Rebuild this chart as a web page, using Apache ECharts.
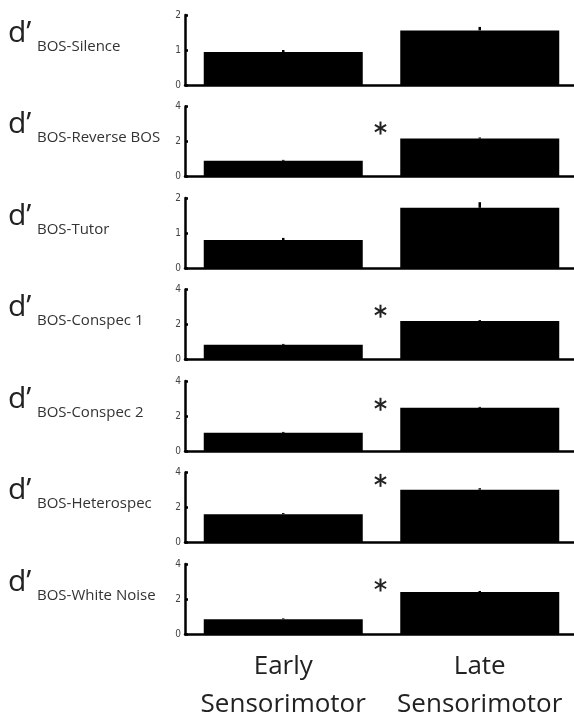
<!DOCTYPE html>
<html>
<head>
<meta charset="utf-8">
<script src="https://cdn.jsdelivr.net/npm/echarts@6/dist/echarts.min.js"></script>
<style>
  html, body { margin: 0; padding: 0; background: #fff; }
  #chart { width: 574px; height: 718px; }
</style>
</head>
<body>
<div id="chart"></div>
<script>
// Discrimination (d') of the bird's own song against each comparison stimulus,
// early vs late sensorimotor stage.
const categories = ['Early\nSensorimotor', 'Late\nSensorimotor'];
const conditions = ['BOS-Silence', 'BOS-Reverse BOS', 'BOS-Tutor', 'BOS-Conspec 1',
                    'BOS-Conspec 2', 'BOS-Heterospec', 'BOS-White Noise'];
const earlyDprime = [0.94, 0.90, 0.80, 0.84, 1.04, 1.62, 0.85];
const lateDprime  = [1.56, 2.17, 1.72, 2.20, 2.47, 3.02, 2.40];
const earlyErr    = [0.06, 0.05, 0.06, 0.05, 0.05, 0.06, 0.04];
const lateErr     = [0.10, 0.06, 0.16, 0.05, 0.05, 0.08, 0.06];
const axisMax     = [2, 4, 2, 4, 4, 4, 4];
const axisStep    = [1, 2, 1, 2, 2, 2, 2];
const starLevel   = [null, 2.77, null, 2.76, 2.67, 3.55, 2.8];   // '*' = significant change

const chart = echarts.init(document.getElementById('chart'), null, { renderer: 'canvas' });

const PANEL_TOP = 15, PANEL_STEP = 91.5, PANEL_H = 70;
const grids = [], xAxes = [], yAxes = [], series = [], graphics = [];

conditions.forEach((name, i) => {
  const top = PANEL_TOP + i * PANEL_STEP;
  const last = i === conditions.length - 1;
  grids.push({ left: 185, width: 393, top: top, height: PANEL_H, outerBoundsMode: 'none', containLabel: false });

  xAxes.push({
    type: 'category', gridIndex: i, data: categories,
    axisLine: { lineStyle: { color: '#000', width: 2.5 } },
    axisTick: { show: false },
    axisLabel: {
      show: last, color: '#222', fontSize: 26, lineHeight: 38,
      fontFamily: 'Open Sans', margin: 14, interval: 0
    }
  });

  yAxes.push({
    type: 'value', gridIndex: i, min: 0, max: axisMax[i], interval: axisStep[i],
    splitLine: { show: false },
    axisLine: { show: true, lineStyle: { color: '#000', width: 2.5 } },
    axisTick: { show: true, inside: true, length: 3, lineStyle: { color: '#000', width: 2.5 } },
    axisLabel: {
      color: '#444', fontSize: 10, margin: 4,
      fontFamily: 'Liberation Sans Narrow, DejaVu Sans Condensed, sans-serif'
    }
  });

  series.push({
    type: 'bar', xAxisIndex: i, yAxisIndex: i,
    data: [earlyDprime[i], lateDprime[i]],
    barWidth: 159, itemStyle: { color: '#000' }, silent: true
  });

  // upward error bars
  series.push({
    type: 'custom', xAxisIndex: i, yAxisIndex: i, silent: true,
    data: [[0, earlyDprime[i], earlyErr[i]], [1, lateDprime[i], lateErr[i]]],
    renderItem: (params, api) => {
      const lo = api.coord([api.value(0), api.value(1)]);
      const hi = api.coord([api.value(0), api.value(1) + api.value(2)]);
      return {
        type: 'line',
        shape: { x1: lo[0], y1: lo[1], x2: hi[0], y2: hi[1] },
        style: { stroke: '#000', lineWidth: 2.5 }
      };
    }
  });

  if (starLevel[i] !== null) {
    series.push({
      type: 'custom', xAxisIndex: i, yAxisIndex: i, silent: true,
      data: [[1, starLevel[i]]],
      renderItem: (params, api) => {
        const c = api.coord([api.value(0), api.value(1)]);
        const band = api.size([1, 0])[0];
        const cx = c[0] - band / 2 - 1, cy = c[1], r = 6.5;
        const arms = [90, 30, 150].map(a => {
          const t = a * Math.PI / 180;
          return {
            type: 'line',
            shape: { x1: cx - r * Math.cos(t), y1: cy - r * Math.sin(t),
                     x2: cx + r * Math.cos(t), y2: cy + r * Math.sin(t) },
            style: { stroke: '#222', lineWidth: 2 }
          };
        });
        return { type: 'group', children: arms };
      }
    });
  }

  graphics.push({
    type: 'text', left: 8, top: top + 3,
    style: { text: 'd’', font: '30px "Open Sans"', fill: '#222' }
  });
  graphics.push({
    type: 'text', left: 37, top: top + 24,
    style: { text: name, font: '15px "Open Sans"', fill: '#333' }
  });
});

chart.setOption({
  backgroundColor: '#fff',
  animation: false,
  grid: grids,
  xAxis: xAxes,
  yAxis: yAxes,
  series: series,
  graphic: graphics
});
</script>
</body>
</html>
